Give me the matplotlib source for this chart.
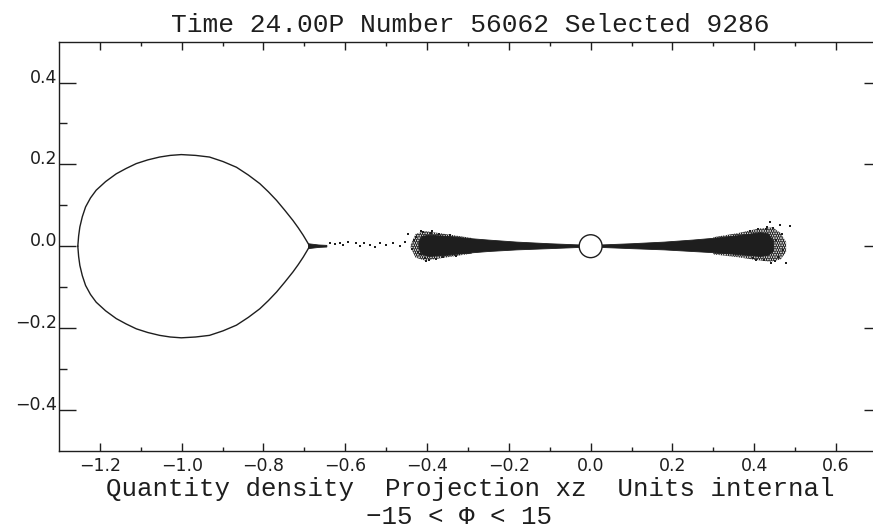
import numpy as np
import matplotlib
matplotlib.use("Agg")
import matplotlib.pyplot as plt
from matplotlib.patches import Polygon, Circle

# upper half of the critical (Roche) surface round the donor, x and z
lobe_x = [-0.687, -0.694, -0.703, -0.715, -0.728, -0.748, -0.768, -0.788, -0.809, -0.837,
          -0.866, -0.899, -0.932, -0.966, -1.001, -1.028, -1.054, -1.083, -1.111, -1.136,
          -1.160, -1.186, -1.209, -1.223, -1.235, -1.243, -1.249, -1.252, -1.254]
lobe_z = [0.000, 0.012, 0.027, 0.045, 0.063, 0.088, 0.112, 0.133, 0.153, 0.174,
          0.193, 0.207, 0.218, 0.222, 0.224, 0.222, 0.218, 0.211, 0.202, 0.190,
          0.177, 0.158, 0.137, 0.118, 0.096, 0.072, 0.047, 0.025, 0.000]

# dense body of the particle disc, left and right of the accretor
core_left_x = [-0.420, -0.412, -0.395, -0.350, -0.300, -0.250, -0.180, -0.100, -0.025,
               -0.025, -0.100, -0.180, -0.250, -0.300, -0.350, -0.395, -0.412, -0.420]
core_left_z = [0.010, 0.024, 0.027, 0.024, 0.019, 0.015, 0.010, 0.006, 0.003,
               -0.003, -0.006, -0.009, -0.013, -0.017, -0.022, -0.025, -0.020, -0.006]
core_right_x = [0.025, 0.100, 0.180, 0.250, 0.320, 0.380, 0.415, 0.435, 0.447,
                0.447, 0.435, 0.415, 0.380, 0.320, 0.250, 0.180, 0.100, 0.025]
core_right_z = [0.003, 0.006, 0.010, 0.015, 0.021, 0.028, 0.033, 0.030, 0.012,
                -0.012, -0.022, -0.025, -0.022, -0.017, -0.013, -0.009, -0.006, -0.003]

# speckled fringe round the outer ends of the disc
rim_left_x = [-0.440, -0.428, -0.405, -0.370, -0.330, -0.290,
              -0.290, -0.330, -0.370, -0.405, -0.428, -0.440]
rim_left_z = [0.004, 0.030, 0.037, 0.032, 0.026, 0.020,
              -0.018, -0.024, -0.030, -0.035, -0.028, -0.004]
rim_right_x = [0.300, 0.360, 0.410, 0.445, 0.465, 0.478,
               0.478, 0.465, 0.440, 0.400, 0.360, 0.300]
rim_right_z = [0.022, 0.032, 0.043, 0.046, 0.032, 0.010,
               -0.014, -0.032, -0.038, -0.033, -0.027, -0.020]

# short dense jet leaving the inner Lagrange point
jet_x = [-0.690, -0.665, -0.645, -0.645, -0.665, -0.690]
jet_z = [0.006, 0.003, 0.002, -0.002, -0.003, -0.006]

# loose particles in the stream and round the outer disc rims
stray_x = [-0.638, -0.626, -0.614, -0.606, -0.593, -0.573, -0.565, -0.553, -0.540, -0.528,
           -0.516, -0.500, -0.483, -0.467, -0.455, -0.447, -0.438, -0.426, -0.418, -0.414,
           -0.406, -0.432, -0.421, -0.409, -0.396, -0.388, -0.377, -0.402, -0.391, -0.370,
           -0.360, -0.345, -0.330,
           0.438, 0.462, 0.487, 0.478, 0.470, 0.454, 0.458, 0.445, 0.452, 0.432,
           0.425, 0.410, 0.398, 0.440, 0.428, 0.468, 0.405, 0.390]
stray_z = [0.007, 0.005, 0.008, 0.002, 0.011, 0.007, 0.000, 0.009, 0.004, -0.002,
           0.008, 0.002, 0.007, 0.000, 0.011, 0.031, -0.006, 0.023, -0.018, 0.037,
           -0.030, 0.016, -0.014, 0.034, -0.033, 0.036, -0.031, -0.036, 0.032, 0.030,
           -0.027, 0.028, -0.024,
           0.059, 0.051, 0.049, -0.042, -0.010, 0.015, -0.026, 0.044, -0.036, 0.048,
           -0.033, 0.042, -0.030, -0.040, 0.041, 0.030, -0.034, 0.037]

accretor_r = 0.028

xticks = [-1.2, -1.0, -0.8, -0.6, -0.4, -0.2, 0.0, 0.2, 0.4, 0.6]
xtick_labels = ["\u22121.2", "\u22121.0", "\u22120.8", "\u22120.6", "\u22120.4",
                "\u22120.2", "0.0", "0.2", "0.4", "0.6"]
xticks_minor = [-1.1, -0.9, -0.7, -0.5, -0.3, -0.1, 0.1, 0.3, 0.5]
yticks = [-0.4, -0.2, 0.0, 0.2, 0.4]
ytick_labels = ["\u22120.4", "\u22120.2", "0.0", "0.2", "0.4"]
yticks_minor = [-0.3, -0.1, 0.1, 0.3]

ink = "#1e1e1e"
label_font = ["Liberation Mono", "DejaVu Sans Mono"]
plt.rcParams["hatch.linewidth"] = 1.6

fig = plt.figure(figsize=(8.73, 5.32), dpi=100)
ax = fig.add_axes([59 / 873, 1 - 450.7 / 532, 822 / 873, 409 / 532])

ax.plot(lobe_x, lobe_z, color=ink, lw=1.0)
ax.plot(lobe_x, -np.array(lobe_z), color=ink, lw=1.0)

for rx, rz in [(rim_left_x, rim_left_z), (rim_right_x, rim_right_z)]:
    ax.add_patch(Polygon(np.column_stack([rx, rz]), closed=True, facecolor="none",
                         edgecolor=ink, lw=0, hatch="......."))
for cx, cz in [(core_left_x, core_left_z), (core_right_x, core_right_z), (jet_x, jet_z)]:
    ax.add_patch(Polygon(np.column_stack([cx, cz]), closed=True,
                         facecolor=ink, edgecolor=ink, lw=0.6))
ax.plot(stray_x, stray_z, ls="none", marker="s", ms=1.8, color=ink, mew=0)

ax.add_patch(Circle((0.0, 0.0), accretor_r, facecolor="white", edgecolor=ink,
                    lw=1.0, zorder=5))

ax.set_xlim(-1.3, 0.71)
ax.set_ylim(-0.5, 0.5)

ax.set_xticks(xticks, labels=xtick_labels)
ax.set_xticks(xticks_minor, minor=True)
ax.set_yticks(yticks, labels=ytick_labels)
ax.set_yticks(yticks_minor, minor=True)

ax.tick_params(which="both", direction="in", top=True, right=True,
               width=1.0, color=ink, labelcolor=ink, labelsize=12.5)
ax.tick_params(axis="x", which="major", length=5.8, pad=4.5)
ax.tick_params(axis="x", which="minor", length=3.0)
ax.tick_params(axis="y", which="major", length=12.0, pad=1.5)
ax.tick_params(axis="y", which="minor", length=6.0)
plt.setp(ax.get_yticklabels(), va="baseline")

for s in ax.spines.values():
    s.set_linewidth(1.0)
    s.set_color(ink)

ax.set_title("Time 24.00P Number 56062 Selected 9286", fontfamily=label_font,
             fontsize=18.9, color=ink, pad=7)
ax.text(0.5, -0.111, "Quantity density  Projection xz  Units internal",
        transform=ax.transAxes, ha="center", va="baseline",
        fontfamily=label_font, fontsize=18.6, color=ink)
ax.text(0.487, -0.179, "\u221215 < \u03a6 < 15", transform=ax.transAxes,
        ha="center", va="baseline", fontfamily=label_font, fontsize=18.6, color=ink)

fig.savefig("out.png", dpi=100)
